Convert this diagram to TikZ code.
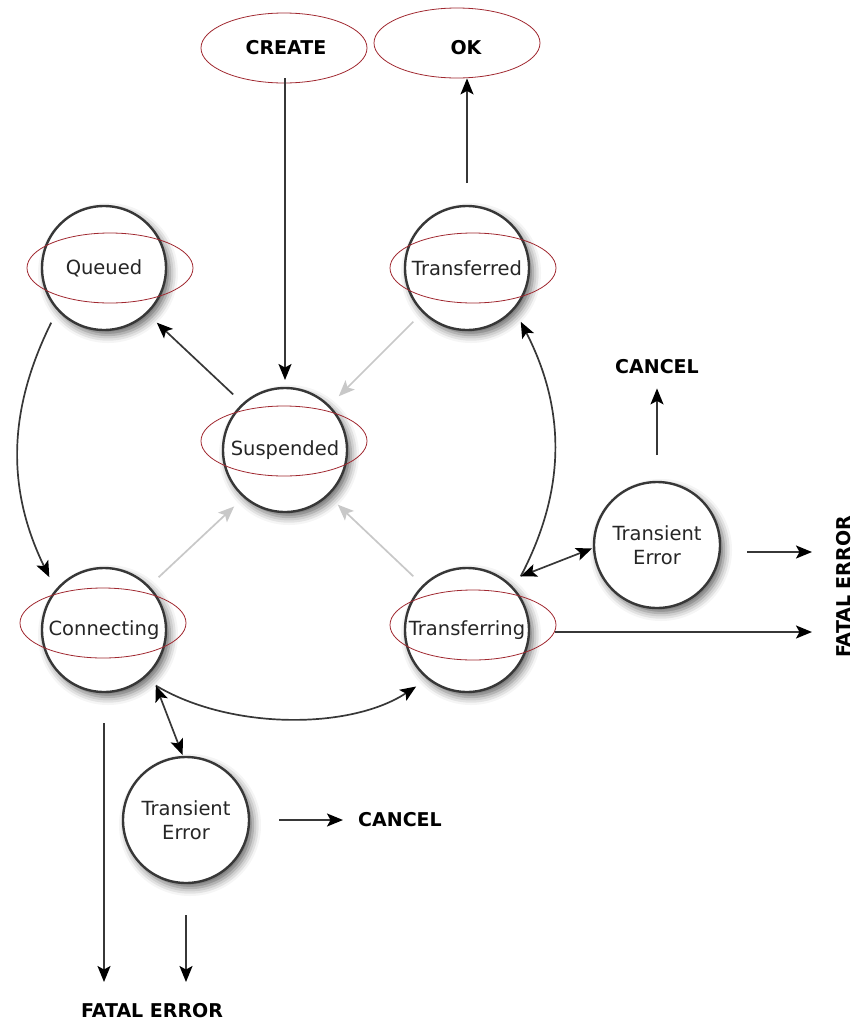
\documentclass[tikz,border=0pt]{standalone}
\usepackage{fontspec}
\setmainfont{DejaVu Sans}
\usetikzlibrary{arrows.meta,shapes.geometric,shadows.blur}
\definecolor{ered}{RGB}{160,40,48}
\definecolor{lgray}{RGB}{200,200,200}
\definecolor{dgray}{RGB}{55,55,55}
\tikzset{
  >={Stealth[length=16pt,width=13pt,inset=3.5pt,color=black]},
  state/.style={circle, draw=dgray, line width=2.4pt, fill=white, minimum size=124pt, inner sep=0pt, outer sep=14pt,
     font=\fontsize{19.5}{24}\selectfont, text=black!85, align=center,
     blur shadow={shadow xshift=4pt, shadow yshift=-5pt, shadow blur radius=8pt, shadow opacity=60}},
  transient/.style={state, minimum size=126pt, outer sep=2pt},
  mark ellipse/.style={ellipse, draw=ered, line width=0.8pt, minimum width=166pt, minimum height=70pt, inner sep=0pt},
  endlabel/.style={font=\bfseries\fontsize{19}{23}\selectfont, inner sep=0pt},
  arr/.style={draw=dgray, line width=1.7pt, ->},
  dbl/.style={draw=dgray, line width=1.7pt, <->},
  garr/.style={draw=lgray, line width=1.7pt, -{Stealth[length=16pt,width=13pt,inset=3.5pt]}}
}
\begin{document}
\begin{tikzpicture}[x=1pt,y=-1pt]
\useasboundingbox (0,0) rectangle (855,1023);
% states
\node[state] (q)   at (104,268) {Queued};
\node[state] (trd) at (467,268) {Transferred};
\node[state] (sus) at (285,450) {Suspended};
\node[state] (con) at (104,630) {Connecting};
\node[state] (trf) at (467,630) {Transferring};
\node[transient] (ter) at (657,545) {Transient\\Error};
\node[transient] (teb) at (186,820) {Transient\\Error};
% end labels
\node[endlabel] (create) at (286,48) {CREATE};
\node[endlabel] (ok) at (466,48) {OK};
\node[endlabel] (cancel1) at (657,367) {CANCEL};
\node[endlabel] (cancel2) at (400,820) {CANCEL};
\node[endlabel] (fatal1) at (152,1011) {FATAL ERROR};
\node[endlabel, rotate=90] (fatal2) at (844,587) {FATAL ERROR};
% red marking ellipses
\node[mark ellipse] (eCreate) at (284,48) {};
\node[mark ellipse] (eOk) at (457,43) {};
\node[mark ellipse] (eQ) at (110,268) {};
\node[mark ellipse] (eTrd) at (473,268) {};
\node[mark ellipse] (eSus) at (284,441) {};
\node[mark ellipse] (eCon) at (103,623) {};
\node[mark ellipse] (eTrf) at (473,625) {};
% free ends
\coordinate (fe1) at (812,552);
\coordinate (fe2) at (812,632);
\coordinate (fe3) at (104,982);
\coordinate (fe4) at (186,982);
% connectors
\draw[arr, shorten <=-5pt, shorten >=-6pt] (sus.north |- eCreate.south) -- (sus.north);
\draw[arr, shorten <=85pt] (trd.center) -- (trd.center |- eOk.south);
\draw[arr] (sus.133) -- (q.314);
\draw[garr] (trd.225) -- (sus.45);
\draw[garr] (con.44) -- (sus.228);
\draw[garr] (trf.135) -- (sus.314);
\draw[arr] (q.226) .. controls (7,412) and (7,490) .. (con.136);
\draw[arr] (trf.45) .. controls (566,490) and (566,410) .. (trd.315);
\draw[arr] (con.313) .. controls (230,730) and (350,730) .. (trf.228);
\draw[dbl] (trf.45) -- (ter.183);
\draw[dbl] (con.313) -- (teb.93);
\draw[arr, shorten <=25pt, shorten >=14pt] (ter.north) -- (cancel1.south);
\draw[arr, shorten <=25pt] (ter.east |- fe1) -- (fe1);
\draw[arr, shorten <=12pt] (trf.east |- fe2) -- (fe2);
\draw[arr, shorten <=28pt, shorten >=15pt] (teb.east) -- (cancel2.west);
\draw[arr, shorten <=17pt] (con.south) -- (fe3);
\draw[arr, shorten <=30pt] (teb.south) -- (fe4);
\end{tikzpicture}
\end{document}
